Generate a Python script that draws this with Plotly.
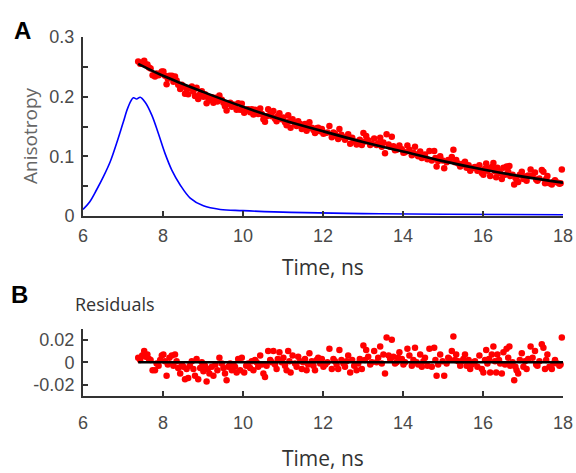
import plotly.graph_objects as go

W, H = 576, 473

# ---------------- data ----------------
time_ns = [
    7.38, 7.43, 7.48, 7.53, 7.57, 7.61, 7.65, 7.69, 7.74, 7.80, 7.84, 7.89, 7.93, 7.97, 8.01,
    8.05, 8.09, 8.12, 8.16, 8.22, 8.26, 8.30, 8.34, 8.38, 8.43, 8.47, 8.51, 8.55, 8.59, 8.63,
    8.67, 8.72, 8.76, 8.80, 8.84, 8.88, 8.93, 8.97, 9.01, 9.05, 9.09, 9.12, 9.16, 9.22, 9.26,
    9.31, 9.36, 9.41, 9.47, 9.51, 9.55, 9.59, 9.63, 9.68, 9.72, 9.76, 9.80, 9.84, 9.88, 9.93, 9.97,
    10.03, 10.08, 10.13, 10.18, 10.22, 10.26, 10.30, 10.34, 10.38, 10.43, 10.47, 10.51, 10.55, 10.59, 10.63,
    10.68, 10.72, 10.76, 10.80, 10.84, 10.87, 10.91, 10.97, 11.01, 11.05, 11.09, 11.13, 11.16, 11.19, 11.24,
    11.30, 11.34, 11.38, 11.43, 11.47, 11.51, 11.55, 11.59, 11.63, 11.66, 11.72, 11.76, 11.80, 11.84, 11.88,
    11.93, 11.97, 12.01, 12.06, 12.11, 12.16, 12.22, 12.26, 12.30, 12.34, 12.38, 12.41, 12.46, 12.51, 12.55,
    12.59, 12.63, 12.68,
    12.73, 12.78, 12.84, 12.88, 12.92, 12.97, 13.01, 13.05, 13.08, 13.13, 13.18, 13.22, 13.28, 13.34, 13.38,
    13.43, 13.47, 13.51, 13.55, 13.59, 13.64, 13.68, 13.72, 13.76, 13.80, 13.84, 13.88, 13.91, 13.97, 14.01,
    14.05, 14.11, 14.16, 14.22, 14.26, 14.30, 14.34, 14.38, 14.43, 14.47, 14.51, 14.55, 14.61, 14.66, 14.72,
    14.78, 14.81, 14.84, 14.88, 14.93, 14.99, 15.03, 15.09, 15.13, 15.16, 15.22, 15.26, 15.30, 15.33, 15.38,
    15.43, 15.47, 15.51, 15.55, 15.59, 15.64, 15.68, 15.72, 15.76, 15.80, 15.86, 15.91, 15.97, 16.01, 16.05,
    16.08, 16.11, 16.15, 16.18, 16.22, 16.26, 16.30, 16.33, 16.36, 16.40, 16.43, 16.47, 16.51, 16.55, 16.59,
    16.63, 16.66, 16.68, 16.74, 16.78, 16.81, 16.84, 16.88, 16.92, 16.97, 17.01, 17.05, 17.09, 17.13, 17.19,
    17.24, 17.30, 17.33, 17.36, 17.41, 17.47, 17.51, 17.55, 17.58, 17.61, 17.66, 17.72, 17.76, 17.80, 17.86,
    17.91, 17.94, 17.97,
]

anisotropy = [
    .259, .255, .257, .260, .254, .254, .249, .247, .236, .234, .239, .236, .239, .242, .242,
    .235, .221, .230, .235, .235, .225, .234, .227, .220, .213, .220, .217, .205, .213, .204,
    .214, .217, .209, .201, .215, .196, .205, .209, .200, .204, .189, .199, .194, .199, .190,
    .198, .192, .202, .195, .190, .184, .177, .188, .190, .183, .187, .184, .178, .189, .178, .188,
    .173, .178, .179, .174, .179, .170, .178, .176, .171, .180, .171, .162, .158, .167, .179,
    .170, .167, .176, .163, .159, .167, .172, .162, .165, .157, .152, .169, .159, .148, .162,
    .154, .151, .159, .154, .146, .151, .154, .143, .147, .157, .148, .144, .139, .147, .148,
    .142, .146, .138, .139, .140, .151, .132, .140, .138, .134, .129, .146, .136, .132, .128,
    .132, .137, .121,
    .131, .125, .120, .125, .128, .119, .139, .125, .134, .127, .119, .121, .130, .119, .122,
    .131, .116, .123, .105, .137, .120, .116, .133, .117, .110, .111, .114, .118, .112, .106,
    .107, .118, .111, .102, .106, .116, .103, .100, .108, .097, .101, .103, .095, .109, .093,
    .109, .097, .083, .092, .100, .093, .080, .090, .094, .093, .099, .111, .090, .094, .088,
    .083, .086, .088, .091, .081, .085, .076, .080, .081, .082, .076, .085, .072, .069, .079,
    .088, .076, .079, .067, .082, .089, .075, .065, .081, .075, .072, .062, .081, .069, .083,
    .074, .084, .067, .069, .053, .064, .061, .057, .069, .074, .062, .066, .059, .068, .078,
    .068, .073, .061, .059, .063, .077, .074, .055, .062, .067, .055, .053, .057, .060, .056,
    .054, .055, .078,
]

residuals = [
    .004, .002, .006, .010, .005, .007, .003, .002, -.007, -.007, -.001, -.003, .002, .006, .007,
    .001, -.012, -.002, .004, .006, -.003, .007, .001, -.005, -.010, -.002, -.004, -.015, -.006, -.014,
    -.003, .001, -.006, -.012, .003, -.015, -.005, 0, -.008, -.003, -.017, -.006, -.010, -.004, -.012,
    -.002, -.007, .004, -.001, -.005, -.010, -.016, -.004, -.001, -.007, -.002, -.004, -.009, .003, -.007, .004,
    -.009, -.003, -.001, -.005, .001, -.007, .002, 0, -.004, .006, -.002, -.010, -.013, -.003, .010,
    .002, 0, .010, -.002, -.006, .003, .009, 0, .004, -.003, -.007, .010, .001, -.009, .006,
    -.001, -.004, .005, .001, -.006, 0, .003, -.007, -.002, .008, .001, -.003, -.007, .002, .004,
    -.001, .003, -.004, -.002, 0, .012, -.006, .003, .001, -.002, -.006, .011, .002, -.001, -.004,
    .001, .006, -.009,
    .002, -.003, -.007, -.001, .003, -.006, .015, .002, .011, .005, -.002, 0, .010, 0, .004,
    .014, -.001, .007, -.010, .022, .006, .003, .020, .005, -.001, 0, .004, .009, .003, -.002,
    0, .012, .006, -.003, .002, .013, 0, -.002, .007, -.004, .001, .004, -.003, .012, -.004,
    .013, .002, -.012, -.002, .007, .001, -.012, -.001, .004, .003, .010, .023, .002, .007, .001,
    -.003, .001, .003, .007, -.003, .002, -.006, -.002, 0, .001, -.004, .006, -.006, -.009, .002,
    .011, -.001, .003, -.009, .007, .014, .001, -.009, .007, .002, -.001, -.010, .009, -.002, .012,
    .004, .014, -.003, 0, -.016, -.004, -.007, -.010, .002, .008, -.004, .001, -.006, .003, .014,
    .004, .010, -.002, -.003, .001, .016, .013, -.006, .002, .007, -.004, -.006, -.001, .002, -.001,
    -.003, -.002, .022,
]

fit_time = [7.38, 8, 9, 10, 11, 12, 13, 14, 15, 16, 17, 18]
fit_value = [0.255, 0.235, 0.208, 0.183, 0.161, 0.142, 0.124, 0.108, 0.092, 0.078, 0.066, 0.056]

baseline_time = [7.38, 18]
baseline_value = [0, 0]

irf_time = [6.0, 6.17, 6.34, 6.51, 6.68, 6.84, 7.01, 7.13, 7.26, 7.34, 7.43, 7.55, 7.72, 7.88,
            8.05, 8.22, 8.43, 8.68, 9.01, 9.43, 10.0, 11.2, 13.0, 15.0, 18.0]
irf_value = [0.011, 0.024, 0.044, 0.066, 0.091, 0.122, 0.158, 0.183, 0.198, 0.196, 0.199, 0.191,
             0.169, 0.139, 0.105, 0.077, 0.052, 0.030, 0.017, 0.011, 0.009, 0.006, 0.004, 0.003, 0.002]

x_ticks = [6, 8, 10, 12, 14, 16, 18]
a_y_ticks = [0, 0.1, 0.2, 0.3]
a_y_ticktext = ["0", "0.1", "0.2", "0.3"]
a_y_minor = [0.05, 0.15, 0.25]
b_y_ticks = [-0.02, 0, 0.02]
b_y_ticktext = ["-0.02", "0", "0.02"]

assert len(time_ns) == len(anisotropy) == len(residuals)

# ---------------- figure ----------------
RED = "#ff0000"
AX = "#333333"
TICKFONT = dict(family="Liberation Sans, Arial, sans-serif", size=18, color="#4a4a4a")


def px_x(x):
    return x / W


def px_y(y):
    return 1 - y / H


fig = go.Figure()

fig.add_trace(go.Scatter(x=irf_time, y=irf_value, mode="lines", line=dict(color="#0000ff", width=1.6, shape="spline"),
                         xaxis="x", yaxis="y", cliponaxis=False, hoverinfo="skip"))
fig.add_trace(go.Scatter(x=time_ns, y=anisotropy, mode="markers",
                         marker=dict(color=RED, size=6.5, line=dict(width=0)),
                         xaxis="x", yaxis="y", cliponaxis=False))
fig.add_trace(go.Scatter(x=fit_time, y=fit_value, mode="lines", line=dict(color="black", width=2.6, shape="spline"),
                         xaxis="x", yaxis="y", cliponaxis=False))

fig.add_trace(go.Scatter(x=time_ns, y=residuals, mode="markers",
                         marker=dict(color=RED, size=6.5, line=dict(width=0)),
                         xaxis="x2", yaxis="y2", cliponaxis=False))
fig.add_trace(go.Scatter(x=baseline_time, y=baseline_value, mode="lines", line=dict(color="black", width=2.6),
                         xaxis="x2", yaxis="y2", cliponaxis=False))

common_axis = dict(showline=True, linecolor=AX, linewidth=2, ticks="inside", ticklen=5, tickwidth=2,
                   tickcolor=AX, showgrid=False, zeroline=False, tickfont=TICKFONT, fixedrange=True,
                   automargin=False)

fig.update_layout(
    width=W, height=H,
    autosize=False,
    margin=dict(l=0, r=0, t=0, b=0, pad=0, autoexpand=False),
    paper_bgcolor="white", plot_bgcolor="white",
    showlegend=False,
    xaxis=dict(domain=[px_x(83), px_x(563)], range=[6, 18], tickmode="array", tickvals=x_ticks,
               anchor="y", ticklabelstandoff=2, **common_axis),
    yaxis=dict(domain=[px_y(216), px_y(37)], range=[0, 0.3], tickmode="array", tickvals=a_y_ticks,
               ticktext=a_y_ticktext, anchor="x", ticklabelstandoff=3,
               minor=dict(tickmode="array", tickvals=a_y_minor, ticks="inside", ticklen=5, tickwidth=2, tickcolor=AX),
               **common_axis),
    xaxis2=dict(domain=[px_x(83), px_x(563)], range=[6, 18], tickmode="array", tickvals=x_ticks,
                anchor="y2", ticklabelstandoff=9, **common_axis),
    yaxis2=dict(domain=[px_y(396), px_y(328.5)], range=[-0.03, 0.03], tickmode="array", tickvals=b_y_ticks,
                ticktext=b_y_ticktext, anchor="x2", ticklabelstandoff=3, **common_axis),
)

ann_font = "Open Sans, sans-serif"
annotations = [
    dict(text="<b>A</b>", x=px_x(22), y=px_y(30), font=dict(family="Liberation Sans, Arial", size=24, color="black")),
    dict(text="<b>B</b>", x=px_x(19), y=px_y(294), font=dict(family="Liberation Sans, Arial", size=24, color="black")),
    dict(text="Anisotropy", x=px_x(30), y=px_y(136), textangle=-90, font=dict(family=ann_font, size=19, color="#666666")),
    dict(text="Time, ns", x=px_x(323), y=px_y(267), font=dict(family=ann_font, size=21, color="#333333")),
    dict(text="Time, ns", x=px_x(323), y=px_y(458), font=dict(family=ann_font, size=21, color="#333333")),
    dict(text="Residuals", x=px_x(115), y=px_y(304), font=dict(family=ann_font, size=18, color="#333333")),
]
for a in annotations:
    fig.add_annotation(xref="paper", yref="paper", showarrow=False, xanchor="center", yanchor="middle", **a)

fig.write_html("out.html",
               config={"displayModeBar": False, "responsive": False},
               post_script="document.body.style.margin='0px';document.body.style.overflow='hidden';")
